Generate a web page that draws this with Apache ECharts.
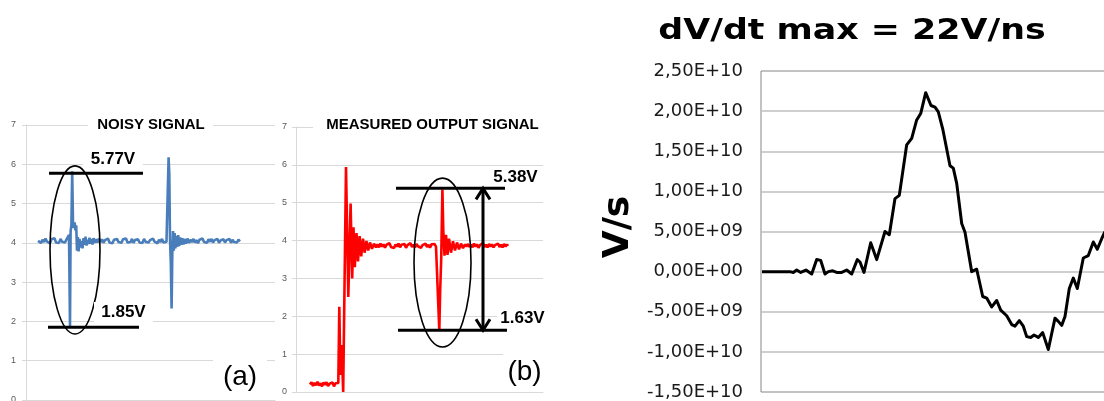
<!DOCTYPE html>
<html><head><meta charset="utf-8">
<script src="https://cdn.jsdelivr.net/npm/echarts@6/dist/echarts.min.js"></script>
<style>html,body{margin:0;padding:0;background:#fff}#c{width:1104px;height:401px}</style>
</head><body><div id="c"></div>
<script>
// ---------- DATA ----------
const titleA = 'NOISY SIGNAL';
const titleB = 'MEASURED OUTPUT SIGNAL';
const titleC = 'dV/dt max = 22V/ns';
const unitC = 'V/s';
const tagA = '(a)';
const tagB = '(b)';
const voltTicks = [0, 7, 1];              // min, max, step (panels a, b)
const rateTicks = [-1.5e10, 2.5e10, 5e9]; // min, max, step (panel c)

// panel (a) noisy signal [time, volts]
const noisySignal = [
[12,4.05],[13.5,4.1],[15,4.0],[16.5,4.08],[18,4.02],[19.5,4.11],[21,4.03],[22.5,4.07],[24,3.99],[25.5,4.09],[27,4.04],[28.5,4.12],[30,4.01],[31.5,4.06],[33,4.0],[34.5,4.1],[36,4.03],[37.5,4.08],[39,4.01],[40.5,4.09],[42,4.04],
[43,4.2],[44,1.87],[44.6,4.3],[45.4,4.45],[46.2,5.82],[47,4.5],[47.8,4.38],[48.6,4.52],[49.4,4.32],[50.2,4.45],[51,3.8],[51.8,4.15],[52.6,3.78],[53.5,4.1],[54.5,3.88],[55.5,4.05],[56.5,3.86],[57.5,4.12],[58.5,3.95],[59.5,4.16],[60.5,3.93],[61.5,4.08],[62.5,3.97],[63.5,4.13],[64.5,3.98],[65.5,4.1],[66.5,3.96],[67.5,4.12],[68.5,4.0],[70,4.09],[71.5,4.01],[73,4.11],
[74.5,4.02],[76,4.09],[77.5,4.0],[79,4.07],[80.5,4.03],[82,4.11],[83.5,4.01],[85,4.06],[86.5,3.99],[88,4.08],[89.5,4.03],[91,4.1],[92.5,4.02],[94,4.07],[95.5,4.0],[97,4.09],[98.5,4.04],[100,4.11],[101.5,4.01],[103,4.06],[104.5,4.02],[106,4.1],[107.5,4.0],[109,4.07],[110.5,4.03],[112,4.09],[113.5,4.01],[115,4.06],[116.5,4.0],[118,4.1],[119.5,4.03],[121,4.08],[122.5,4.01],[124,4.07],[125.5,4.02],[127,4.11],[128.5,4.03],[130,4.06],[131.5,3.99],[133,4.08],[134.5,4.02],[136,4.1],[137.5,4.01],[139,4.06],[140.5,4.03],[142,4.05],
[142.6,6.18],[143.3,5.75],[144,4.1],[144.8,3.5],[145.6,2.33],[146.3,3.7],[147,4.3],[147.8,3.8],[148.6,4.25],[149.4,3.86],[150.3,4.18],[151.2,3.9],[152.2,4.2],[153.2,3.92],[154.2,4.14],[155.3,3.95],[156.4,4.12],[157.5,3.96],[158.6,4.1],[160,3.98],[161.5,4.11],[163,4.0],
[164.5,4.08],[166,4.02],[167.5,4.1],[169,4.01],[170.5,4.07],[172,3.99],[173.5,4.08],[175,4.03],[176.5,4.11],[178,4.02],[179.5,4.06],[181,4.0],[182.5,4.09],[184,4.03],[185.5,4.1],[187,4.01],[188.5,4.07],[190,4.02],[191.5,4.1],[193,4.0],[194.5,4.06],[196,4.02],[197.5,4.09],[199,4.01],[200.5,4.07],[202,4.03],[203.5,4.1],[205,4.0],[206.5,4.08],[208,4.02],[209.5,4.07],[211,4.01],[212.5,4.08],[214,4.04]
];
// panel (b) measured output signal [time, volts]
const outputSignal = [
[14,0.2],[15.5,0.26],[17,0.16],[18.5,0.24],[20,0.18],[21.5,0.27],[23,0.17],[24.5,0.23],[26,0.15],[27.5,0.25],[29,0.19],[30.5,0.26],[32,0.16],[33.5,0.22],[35,0.18],[36.5,0.25],[38,0.15],[39.5,0.23],[41,0.19],[42.3,0.24],
[43.3,2.25],[44.4,0.45],[45.6,1.24],[47.2,0.0],[50,5.94],[52.3,2.51],[54.6,4.98],[56.2,3.0],[57.5,4.35],[58.8,3.3],[60.5,4.2],[62,3.45],[63.6,4.12],[65.2,3.58],[67,4.05],[68.6,3.68],[70.4,3.99],[72.2,3.74],[74,3.95],[76,3.78],[78,3.92],[80,3.82],
[81.5,3.9],[83,3.82],[84.5,3.92],[86,3.84],[87.5,3.9],[89,3.81],[90.5,3.89],[92,3.85],[93.5,3.93],[95,3.83],[96.5,3.88],[98,3.8],[99.5,3.9],[101,3.84],[102.5,3.92],[104,3.82],[105.5,3.89],[107,3.85],[108.5,3.91],[110,3.81],[111.5,3.88],[113,3.84],[114.5,3.93],[116,3.83],[117.5,3.89],[119,3.82],[120.5,3.91],[122,3.85],[123.5,3.9],[125,3.81],[126.5,3.88],[128,3.84],[129.5,3.92],[131,3.83],[132.5,3.89],[134,3.81],[135.5,3.9],[137,3.85],[138.5,3.91],[140,3.84],[141.5,3.86],
[143.3,1.62],[144.2,2.7],[145.2,3.5],[146.4,5.35],[147.3,4.25],[148.5,3.6],[150,4.15],[151.5,3.62],[153,4.05],[155,3.68],[157,3.98],[159,3.74],[161,3.95],[163,3.77],[165,3.92],[167,3.8],[169,3.9],
[170.5,3.84],[172,3.91],[173.5,3.83],[175,3.89],[176.5,3.82],[178,3.92],[179.5,3.84],[181,3.9],[182.5,3.81],[184,3.88],[185.5,3.85],[187,3.93],[188.5,3.83],[190,3.89],[191.5,3.82],[193,3.91],[194.5,3.84],[196,3.9],[197.5,3.82],[199,3.88],[200.5,3.85],[202,3.92],[203.5,3.83],[205,3.89],[206.5,3.82],[208,3.91],[209.5,3.84],[211,3.9],[212,3.86]
];
// panel (c) dV/dt
const rateTime = [1,29,32.3,35.7,39.7,45,50.7,55.7,59.7,64,67.3,71.7,75.7,80.7,85.7,90.7,96.3,99,103,109.7,115.7,124,128.3,134,138.3,145.7,150.7,155.7,159.7,164.7,170,174,177.3,181.7,189,192.3,195.7,200.7,204,210.7,215.7,221.7,225.7,230.7,235.7,239.7,245.7,250.7,254,258.3,262.3,265.7,269.7,273,277.3,281.7,287.3,294,297.3,300.7,304,308.3,312.3,316.3,322.3,327.3,332.3,336.3,340.7,344];
const rateValue = [0,0,-0.1e9,0.2e9,-0.1e9,0.2e9,-0.3e9,1.5e9,1.4e9,-0.3e9,0,0.1e9,-0.1e9,-0.1e9,0.2e9,-0.3e9,1.5e9,1.2e9,-0.1e9,3.6e9,1.5e9,5.0e9,4.6e9,9.1e9,9.5e9,15.8e9,16.6e9,18.9e9,19.7e9,22.3e9,20.7e9,20.5e9,19.9e9,17.8e9,13.2e9,12.9e9,11.0e9,6.0e9,4.9e9,0,0.3e9,-3.1e9,-3.3e9,-4.4e9,-3.6e9,-4.8e9,-5.5e9,-6.6e9,-6.8e9,-6.1e9,-6.8e9,-8.1e9,-8.2e9,-7.9e9,-8.2e9,-7.6e9,-9.7e9,-5.8e9,-6.2e9,-6.7e9,-5.6e9,-2.1e9,-0.8e9,-2.1e9,1.7e9,2.0e9,3.7e9,2.8e9,4.1e9,5.0e9];

// annotations (data units)
const levelsA = [{v:5.77, t0:23, t1:117}, {v:1.85, t0:22, t1:113}];
const levelsB = [{v:5.38, t0:100, t1:209}, {v:1.63, t0:102, t1:211}];
const ellipseA = [49, 3.82, 25, 2.14];
const ellipseB = [146.5, 3.42, 28.5, 2.23];
const arrowB = [187, 5.38, 1.63];

// ---------- CHART ----------
const chart = echarts.init(document.getElementById('c'), null, {renderer:'canvas'});
const lightGrid = '#d9d9d9';
function sci(v){
  const s = Number(v).toExponential(2);
  let [m, e] = s.split('e');
  const sign = e[0]; let d = e.slice(1); if (d.length < 2) d = '0' + d;
  return m.replace('.', ',') + 'E' + sign + d;
}
function voltYAxis(gi, margin){
  return {gridIndex:gi, type:'value', min:voltTicks[0], max:voltTicks[1], interval:voltTicks[2],
    axisLine:{show:true, lineStyle:{color:lightGrid}},
    axisTick:{show:true, length:4, lineStyle:{color:lightGrid}},
    axisLabel:{fontSize:9, color:'#595959', fontFamily:'Liberation Sans', margin:margin},
    splitLine:{show:true, lineStyle:{color:lightGrid, width:1}}};
}
function hidX(gi, max, line){
  return {gridIndex:gi, type:'value', min:0, max:max,
    axisLine:{show:line, onZero:false, lineStyle:{color:lightGrid}}, axisTick:{show:false},
    axisLabel:{show:false}, splitLine:{show:false}};
}
function levelSeries(levels, gi){
  return levels.map(l => ({type:'line', xAxisIndex:gi, yAxisIndex:gi, data:[[l.t0,l.v],[l.t1,l.v]],
    showSymbol:false, symbol:'none', lineStyle:{color:'#000', width:3}, z:5, silent:true}));
}
function ellipseSeries(e, gi){
  return {type:'custom', xAxisIndex:gi, yAxisIndex:gi, data:[e], clip:false, z:4, silent:true,
    renderItem(params, api){
      const c = api.coord([api.value(0), api.value(1)]);
      const s = api.size([api.value(2), api.value(3)]);
      return {type:'ellipse', shape:{cx:c[0], cy:c[1], rx:s[0], ry:s[1]},
        style:{fill:'none', stroke:'#000', lineWidth:1.6}};
    }};
}
const arrowSeries = {type:'custom', xAxisIndex:1, yAxisIndex:1, data:[arrowB], clip:false, z:5, silent:true,
  renderItem(params, api){
    const p1 = api.coord([api.value(0), api.value(1)]);
    const p2 = api.coord([api.value(0), api.value(2)]);
    const st = {stroke:'#000', lineWidth:3, fill:'none'};
    return {type:'group', children:[
      {type:'line', shape:{x1:p1[0], y1:p1[1], x2:p2[0], y2:p2[1]}, style:st},
      {type:'polyline', shape:{points:[[p1[0]-7,p1[1]+11],[p1[0],p1[1]],[p1[0]+7,p1[1]+11]]}, style:st},
      {type:'polyline', shape:{points:[[p2[0]-7,p2[1]-11],[p2[0],p2[1]],[p2[0]+7,p2[1]-11]]}, style:st}
    ]};
  }};

function box(x, y, w, h){ return {type:'rect', z:50, shape:{x:x, y:y, width:w, height:h}, style:{fill:'#fff'}, silent:true}; }
function txt(x, y, text, font, extra){
  return Object.assign({type:'text', z:60, x:x, y:y, silent:true,
    style:{text:text, font:font, fill:'#000', align:'center', verticalAlign:'middle', textAlign:'center', textVerticalAlign:'middle'}}, extra || {});
}
const labelFont = 'bold 17px "Liberation Sans"';
const graphics = [
  box(88,114,125,23), txt(151,125,titleA,'bold 15px "Liberation Sans"'),
  box(83,150,60,18), txt(113,159,levelsA[0].v.toFixed(2)+'V',labelFont),
  box(94,302,59,21), txt(123.5,312,levelsA[1].v.toFixed(2)+'V',labelFont),
  box(213,350,54,49), txt(240,377,tagA,'28px "Liberation Sans"'),
  box(313,113,240,26), txt(432.5,125,titleB,'bold 15px "Liberation Sans"'),
  box(487,167,66,19), txt(515.5,177,levelsB[0].v.toFixed(2)+'V',labelFont),
  box(497,303,56,24), txt(522.5,318,levelsB[1].v.toFixed(2)+'V',labelFont),
  box(503,345,50,46), txt(524.5,372,tagB,'28px "Liberation Sans"'),
  txt(852,31,titleC,'bold 29px "DejaVu Sans"',{scaleX:1.2}),
  txt(619,227,unitC,'bold 36px "DejaVu Sans"',{rotation:Math.PI/2})
];

const option = {
  animation:false,
  backgroundColor:'#fff',
  grid:[
    {left:26, top:125, width:249, height:275, outerBoundsMode:'none'},
    {left:296, top:127, width:247, height:265, outerBoundsMode:'none'},
    {left:761, top:71, width:383, bottom:9, show:true, borderColor:'#868686', borderWidth:1, backgroundColor:'transparent', outerBoundsMode:'none', containLabel:false}
  ],
  xAxis:[
    hidX(0, 249, true),
    hidX(1, 247, true),
    hidX(2, 383, false)
  ],
  yAxis:[
    voltYAxis(0, 10),
    voltYAxis(1, 9),
    {gridIndex:2, type:'value', min:rateTicks[0], max:rateTicks[1], interval:rateTicks[2],
      axisLine:{show:false}, axisTick:{show:false},
      axisLabel:{fontSize:18, color:'#1a1a1a', fontFamily:'DejaVu Sans', margin:18, formatter:sci},
      splitLine:{show:true, showMinLine:false, showMaxLine:false, lineStyle:{color:'#bfbfbf', width:1.5}}}
  ],
  series:[
    {type:'line', xAxisIndex:0, yAxisIndex:0, data:noisySignal, showSymbol:false, symbol:'none',
      lineStyle:{color:'#4a7ebb', width:2.6}, z:3, silent:true},
    ...levelSeries(levelsA, 0),
    ellipseSeries(ellipseA, 0),
    {type:'line', xAxisIndex:1, yAxisIndex:1, data:outputSignal, showSymbol:false, symbol:'none',
      lineStyle:{color:'#ff0000', width:2.6}, z:3, silent:true},
    ...levelSeries(levelsB, 1),
    ellipseSeries(ellipseB, 1),
    arrowSeries,
    {type:'line', xAxisIndex:2, yAxisIndex:2, data:rateTime.map((t,i)=>[t, rateValue[i]]),
      showSymbol:false, symbol:'none', lineStyle:{color:'#000', width:3, join:'round'}, z:3, silent:true}
  ],
  graphic:{elements:graphics}
};
chart.setOption(option);
</script></body></html>
